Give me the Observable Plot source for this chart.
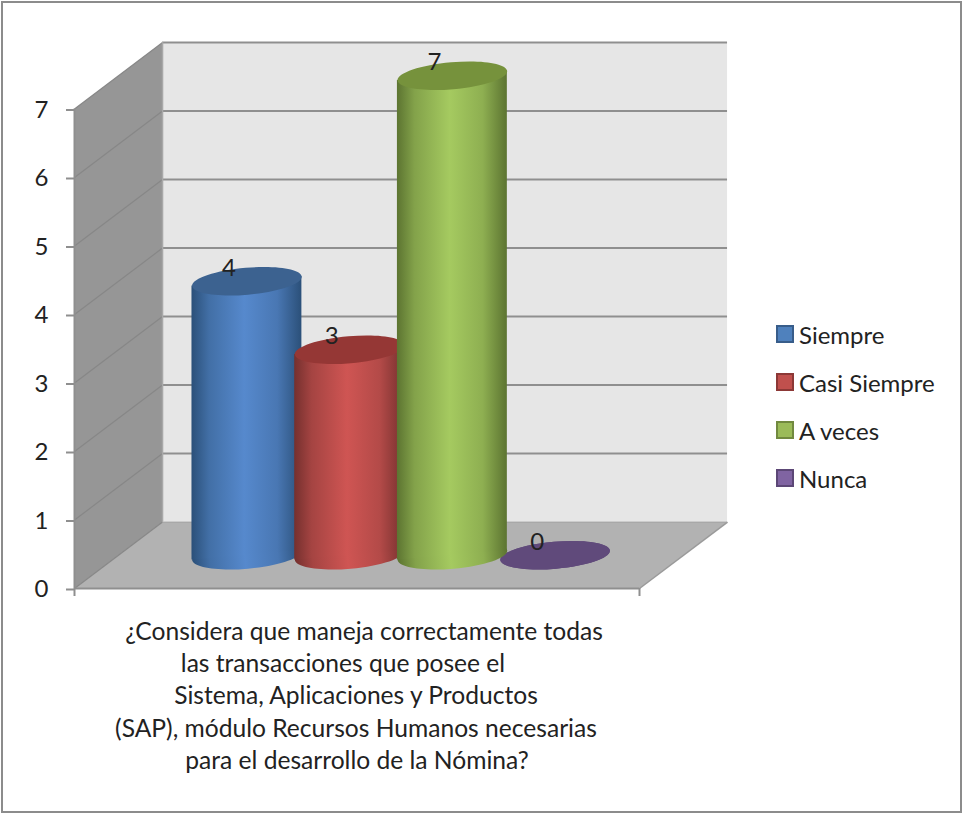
<!DOCTYPE html>
<html>
<head>
<meta charset="utf-8">
<script src="https://cdn.jsdelivr.net/npm/d3@7"></script>
<script src="https://cdn.jsdelivr.net/npm/@observablehq/plot@0.6"></script>
<style>
  html, body { margin: 0; padding: 0; background: #fff; }
  #page { position: relative; width: 962px; height: 813px; overflow: hidden; font-family: Lato, sans-serif; color: #222; }
  #frame { position: absolute; left: 1px; top: 1px; width: 957px; height: 808px; border: 2px solid #8c8c8c; }
  #page svg { position: absolute; left: 0; top: 0; }
  .caption { position: absolute; white-space: nowrap; transform: translateX(-50%); font-size: 24.6px; line-height: 28px; }
  .entry { position: absolute; left: 776px; height: 24px; display: flex; align-items: center; font-size: 24px; white-space: nowrap; }
  .swatch { width: 14px; height: 14px; border: 2px solid; margin-right: 5px; }
</style>
</head>
<body>
<div id="page"><div id="frame"></div></div>
<script>
// Survey answers
const categories = ["Siempre", "Casi Siempre", "A veces", "Nunca"];
const values = [4, 3, 7, 0];
const yTicks = [0, 1, 2, 3, 4, 5, 6, 7];
const questionLines = [
  "¿Considera que maneja correctamente todas",
  "las transacciones que posee el",
  "Sistema, Aplicaciones y Productos",
  "(SAP), módulo Recursos Humanos necesarias",
  "para el desarrollo de la Nómina?"
];

// Office-style palette: base, border, top cap, shaded edge, highlight
const baseColors = ["#4f81bd", "#c0504d", "#9bbb59", "#8064a2"];
const borderColors = ["#385d8a", "#8c3836", "#71893f", "#5c4776"];
const capColors = ["#3c6290", "#953735", "#76923c", "#604a7b"];
const edgeColors = ["#2b5079", "#75302e", "#5c7431", "#4d3b63"];
const lightColors = ["#5689cd", "#cf5553", "#a5ca60", "#8a6cb0"];

// The plot frame spans 5.5 column slots: a 0.75 gap each side of four columns
const slots = 5.5;
const gap = 0.75;
const depthX = 0.857;   // wall depth, in slots
const depthY = 0.97;    // wall depth, in axis units
const radius = 55;      // cylinder radius in pixels
const halfWidth = 0.535; // same radius, in slots
const tilt = 0.07;      // rise of the cap ellipse across its half width, in axis units
const yMax = 7;

const bars = categories.map((name, i) => ({
  name,
  value: values[i],
  cx: gap + i + 0.5 + depthX / 2,
  base: depthY / 2,
  i
}));
bars.forEach(d => { d.top = d.base + d.value; });

// Flattened, tilted disc used for cylinder caps and bases
const disc = {
  draw(context, size) {
    const rx = Math.sqrt(size / Math.PI);
    const ry = rx * 0.245;
    const k = 0.5523;
    context.moveTo(-rx, 0);
    context.bezierCurveTo(-rx, -ry * k, -rx * k, -ry, 0, -ry);
    context.bezierCurveTo(rx * k, -ry, rx, -ry * k, rx, 0);
    context.bezierCurveTo(rx, ry * k, rx * k, ry, 0, ry);
    context.bezierCurveTo(-rx * k, ry, -rx, ry * k, -rx, 0);
    context.closePath();
  }
};

const gradients = () => {
  const defs = d3.create("svg:defs");
  categories.forEach((_, i) => {
    const g = defs.append("linearGradient").attr("id", `shade${i}`);
    [[0, edgeColors[i]], [0.16, d3.interpolateLab(edgeColors[i], lightColors[i])(0.55)], [0.48, lightColors[i]],
     [0.78, d3.interpolateLab(edgeColors[i], lightColors[i])(0.7)], [1, edgeColors[i]]]
      .forEach(([offset, color]) => g.append("stop").attr("offset", offset).attr("stop-color", color));
  });
  return defs.node();
};

const cylinder = d => [
  Plot.dot([d], { x: "cx", y: "base", r: radius, symbol: disc, rotate: -5, fill: d.value ? `url(#shade${d.i})` : capColors[d.i], stroke: "none" }),
  Plot.areaY([{ x: d.cx - halfWidth, s: -tilt }, { x: d.cx + halfWidth, s: tilt }], {
    x: "x",
    y1: p => d.base + p.s,
    y2: p => d.top + p.s,
    fill: `url(#shade${d.i})`
  }),
  Plot.dot([d], { x: "cx", y: "top", r: radius, symbol: disc, rotate: -5, fill: capColors[d.i], stroke: "none" })
];

const wallLine = "#8f8f8f";

const chart = Plot.plot({
  width: 962,
  height: 813,
  marginLeft: 74,
  marginRight: 323,
  marginTop: 108.5,
  marginBottom: 225,
  style: { background: "transparent", overflow: "visible", fontFamily: "Lato, sans-serif" },
  x: { domain: [0, slots] },
  y: { domain: [0, yMax] },
  marks: [
    gradients,
    // back wall, side wall and floor
    Plot.rect([0], { x1: depthX, x2: slots + depthX, y1: depthY, y2: yMax + depthY, fill: "#e6e6e6" }),
    Plot.line([[0, 0], [depthX, depthY], [depthX, yMax + depthY], [0, yMax]], { x: "0", y: "1", fill: "#969696", stroke: "none" }),
    Plot.line([[0, 0], [slots, 0], [slots + depthX, depthY], [depthX, depthY]], { x: "0", y: "1", fill: "#b2b2b2", stroke: "none" }),
    // gridlines on both walls
    Plot.ruleY(yTicks.slice(1), { y: d => d + depthY, x1: depthX, x2: slots + depthX, stroke: wallLine, strokeWidth: 2 }),
    Plot.link(yTicks, { x1: 0, y1: d => d, x2: depthX, y2: d => d + depthY, stroke: "#878787", strokeWidth: 1.2 }),
    Plot.ruleX([depthX], { y1: depthY, y2: yMax + depthY, stroke: "#a8a8a8", strokeWidth: 1.5 }),
    Plot.link([0], { x1: slots, y1: 0, x2: slots + depthX, y2: depthY, stroke: "#9a9a9a", strokeWidth: 1.5 }),
    Plot.ruleY([depthY], { x1: depthX, x2: slots + depthX, stroke: "#a0a0a0", strokeWidth: 1 }),
    // columns, the flat last one first so the green column overlaps it
    ...cylinder(bars[3]),
    ...cylinder(bars[0]),
    ...cylinder(bars[1]),
    ...cylinder(bars[2]),
    // axes
    Plot.ruleX([0], { stroke: wallLine, strokeWidth: 2 }),
    Plot.ruleY([0], { stroke: wallLine, strokeWidth: 2 }),
    Plot.axisY({ ticks: yTicks, tickSize: 8, tickPadding: 18, label: null, stroke: wallLine, strokeWidth: 2, fontSize: 24, fill: "#222", dy: 1, tickFormat: d3.format("d") }),
    Plot.axisX({ ticks: [0, slots], tickSize: 8, label: null, stroke: wallLine, strokeWidth: 2, tickFormat: () => "" }),
    // value labels
    Plot.text(bars, { x: "cx", y: "top", text: "value", dx: -18, dy: -13, fontSize: 24, fill: "#222" })
  ]
});

const page = document.getElementById("page");
page.appendChild(chart);

// Question text below the axis
const lineCenters = [364, 343, 356, 356, 357];
questionLines.forEach((line, i) => {
  const el = document.createElement("div");
  el.className = "caption";
  el.style.left = lineCenters[i] + "px";
  el.style.top = (617 + i * 32.2) + "px";
  el.textContent = line;
  page.appendChild(el);
});

// Legend to the right of the chart
categories.forEach((name, i) => {
  const row = document.createElement("div");
  row.className = "entry";
  row.style.top = (322 + i * 48) + "px";
  const swatch = document.createElement("span");
  swatch.className = "swatch";
  swatch.style.background = baseColors[i];
  swatch.style.borderColor = borderColors[i];
  row.appendChild(swatch);
  row.appendChild(document.createTextNode(name));
  page.appendChild(row);
});
</script>
</body>
</html>
